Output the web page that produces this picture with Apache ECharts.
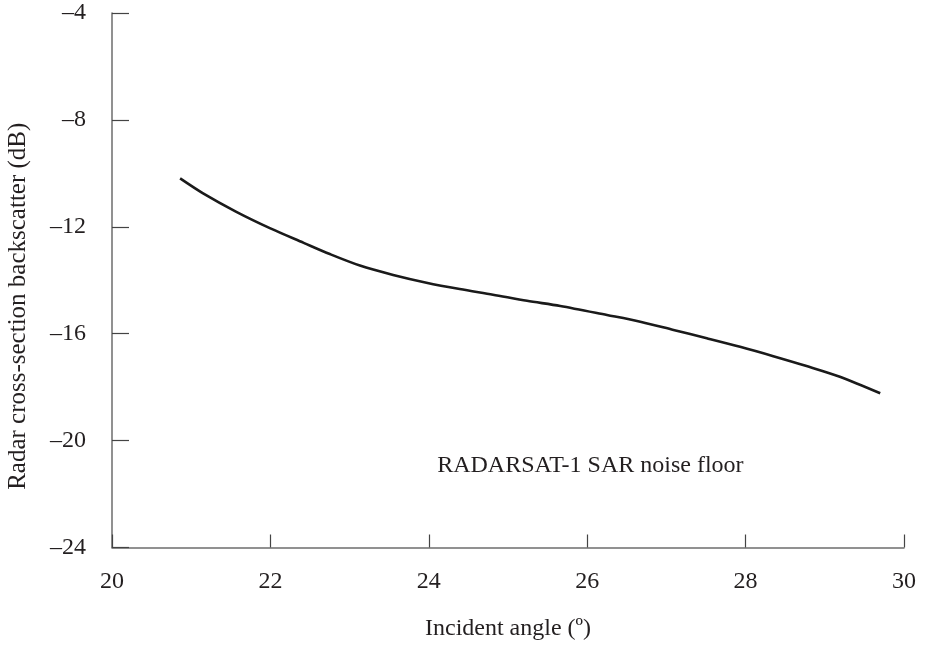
<!DOCTYPE html>
<html>
<head>
<meta charset="utf-8">
<script src="https://cdn.jsdelivr.net/npm/echarts@6/dist/echarts.min.js"></script>
<style>
  html, body { margin: 0; padding: 0; background: #fff; }
  #chart { width: 926px; height: 647px; }
</style>
</head>
<body>
<div id="chart"></div>
<script>
// Incident angle (degrees) and the noise-floor backscatter (dB)
const incidentAngle = [20.86, 21.15, 21.57, 22.00, 22.42, 22.75, 23.13, 23.55, 23.97, 24.39, 24.81,
  25.24, 25.66, 26.25, 26.67, 27.09, 27.51, 27.93, 28.35, 28.77, 29.19, 29.70];
const noiseFloor = [-10.19, -10.75, -11.44, -12.06, -12.60, -13.02, -13.45, -13.80, -14.09, -14.33, -14.54,
  -14.77, -14.96, -15.30, -15.55, -15.86, -16.17, -16.49, -16.84, -17.21, -17.61, -18.23];

const xTicks = [20, 22, 24, 26, 28, 30];
const yTicks = [-24, -20, -16, -12, -8, -4];

const annotationText = 'RADARSAT-1 SAR noise floor';
const annotationAt = [26.04, -20.95];

const font = '"Liberation Serif", "DejaVu Serif", serif';
const textColor = '#231f20';
const axisColor = '#6d6d6d';

const chart = echarts.init(document.getElementById('chart'), null, { renderer: 'canvas' });

chart.setOption({
  animation: false,
  backgroundColor: '#ffffff',
  grid: { left: 112, right: 22, top: 13, bottom: 99.5, containLabel: false, outerBoundsMode: 'none' },
  xAxis: {
    type: 'value',
    min: xTicks[0],
    max: xTicks[xTicks.length - 1],
    interval: 2,
    name: 'Incident angle (º)',
    nameLocation: 'middle',
    nameGap: 69,
    nameTextStyle: { fontFamily: font, fontSize: 24, color: textColor },
    axisLine: { show: true, lineStyle: { color: axisColor, width: 1.5 } },
    axisTick: { show: true, inside: true, length: 13, lineStyle: { color: '#444', width: 1.2 } },
    axisLabel: { fontFamily: font, fontSize: 24, color: textColor, margin: 22 },
    splitLine: { show: false }
  },
  yAxis: {
    type: 'value',
    min: yTicks[0],
    max: yTicks[yTicks.length - 1],
    interval: 4,
    name: 'Radar cross-section backscatter (dB)',
    nameLocation: 'middle',
    nameGap: 81,
    nameTextStyle: { fontFamily: font, fontSize: 25, color: textColor, padding: [0, 52, 0, 0] },
    axisLine: { show: true, lineStyle: { color: axisColor, width: 1.5 } },
    axisTick: { show: true, inside: true, length: 17, lineStyle: { color: '#444', width: 1.2 } },
    axisLabel: {
      fontFamily: font, fontSize: 24, color: textColor, margin: 26,
      formatter: v => (v < 0 ? '\u2013' + Math.abs(v) : String(v))
    },
    splitLine: { show: false }
  },
  series: [
    {
      type: 'line',
      data: incidentAngle.map((x, i) => [x, noiseFloor[i]]),
      smooth: 0.3,
      showSymbol: false,
      lineStyle: { color: '#1a1a1a', width: 2.6 },
      z: 3
    },
    {
      type: 'scatter',
      data: [annotationAt],
      symbolSize: 0,
      silent: true,
      itemStyle: { opacity: 1 },
      label: {
        show: true,
        position: 'inside',
        formatter: annotationText,
        fontFamily: font,
        fontSize: 24,
        color: textColor,
        opacity: 1
      }
    }
  ]
});
</script>
</body>
</html>
